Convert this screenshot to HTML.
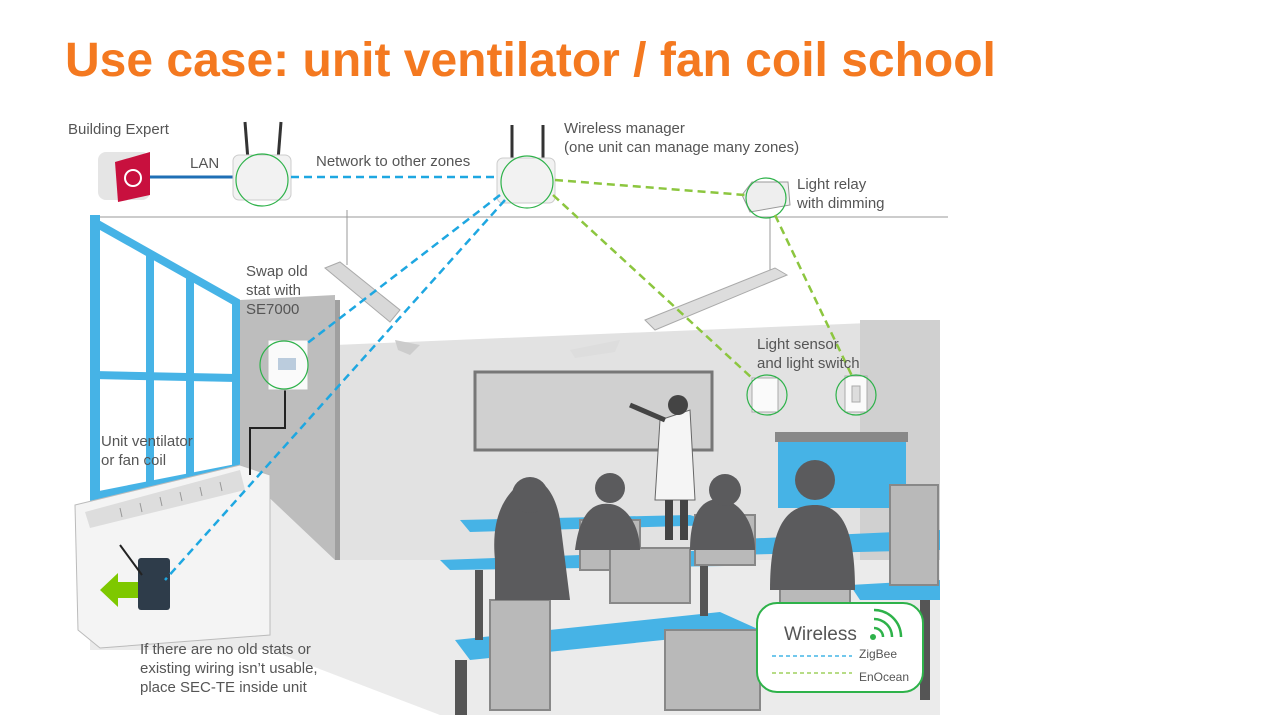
<!DOCTYPE html>
<html><head><meta charset="utf-8"><style>
body{margin:0;width:1280px;height:720px;overflow:hidden;background:#fff;font-family:"Liberation Sans",sans-serif;}
</style></head><body>
<svg width="1280" height="720" viewBox="0 0 1280 720" xmlns="http://www.w3.org/2000/svg" font-family="Liberation Sans, sans-serif">
<rect width="1280" height="720" fill="#fff"/>
<text x="65" y="76" font-size="48" font-weight="bold" fill="#F47920">Use case: unit ventilator / fan coil school</text>
<!-- room -->
<line x1="90" y1="217" x2="948" y2="217" stroke="#bbb" stroke-width="1.5"/>
<polygon points="335,345 940,320 940,560 335,560" fill="#e2e2e2"/>
<polygon points="860,320 940,320 940,715 860,715" fill="#d0d0d0"/>
<polygon points="240,300 335,295 335,560 240,560" fill="#bdbdbd"/>
<polygon points="335,300 340,300 340,560 335,560" fill="#a0a0a0"/>
<polygon points="90,500 240,470 335,560 940,560 940,715 440,715 270,650 90,650" fill="#ebebeb"/>
<!-- window -->
<polygon points="90,215 240,300 240,470 90,500" fill="#fff"/>
<g fill="none" stroke="#46b3e6" stroke-width="8">
<polygon points="94,222 236,302 236,468 94,496"/>
<line x1="150" y1="255" x2="150" y2="488"/>
<line x1="190" y1="276" x2="190" y2="480"/>
<line x1="94" y1="375" x2="236" y2="378"/>
</g>
<rect x="90" y="215" width="10" height="285" fill="#46b3e6"/>
<!-- board -->
<rect x="475" y="372" width="237" height="78" fill="#d0d0d0" stroke="#777" stroke-width="3"/>
<!-- lights -->
<line x1="347" y1="210" x2="347" y2="265" stroke="#999"/>
<polygon points="325,268 340,262 400,310 390,322" fill="#d8d8d8" stroke="#aaa"/>
<polygon points="395,340 420,345 410,355 398,350" fill="#ccc"/>
<line x1="770" y1="218" x2="770" y2="270" stroke="#999"/>
<polygon points="645,320 775,268 787,275 655,330" fill="#ddd" stroke="#aaa"/>
<polygon points="570,350 620,340 615,352 575,358" fill="#ddd"/>
<!-- sink cabinet -->
<rect x="778" y="438" width="128" height="70" fill="#46b3e6"/>
<rect x="775" y="432" width="133" height="10" fill="#888"/>
<!-- tables -->
<g fill="#46b3e6">
<polygon points="460,520 690,515 720,525 470,532"/>
<polygon points="440,560 720,550 725,566 450,570"/>
<polygon points="455,640 720,612 760,630 470,660"/>
<polygon points="720,540 940,530 940,550 730,555"/>
<polygon points="850,585 940,580 940,600 860,600"/>
</g>
<g fill="#555">
<rect x="455" y="660" width="12" height="55"/><rect x="475" y="570" width="8" height="70"/>
<rect x="700" y="566" width="8" height="50"/><rect x="920" y="600" width="10" height="100"/>
</g>
<!-- chairs -->
<g fill="#b9b9b9" stroke="#888" stroke-width="2">
<rect x="490" y="600" width="60" height="110"/><rect x="580" y="520" width="60" height="50"/>
<rect x="610" y="548" width="80" height="55"/><rect x="695" y="515" width="60" height="50"/>
<rect x="665" y="630" width="95" height="80"/><rect x="890" y="485" width="48" height="100"/>
<rect x="780" y="545" width="70" height="60"/>
</g>
<!-- people -->
<g fill="#5b5b5d">
<path d="M495,560 C490,510 510,490 525,480 C540,475 555,490 560,520 L570,600 L495,600 Z"/>
<circle cx="530" cy="495" r="18"/>
<path d="M575,550 C580,510 595,500 615,505 C630,510 640,530 640,550 Z"/>
<circle cx="610" cy="488" r="15"/>
<path d="M690,550 C690,510 705,495 725,500 C745,505 755,530 755,550 Z"/>
<circle cx="725" cy="490" r="16"/>
<path d="M770,590 C770,520 790,505 815,505 C840,505 855,525 855,590 Z"/>
<circle cx="815" cy="480" r="20"/>
</g>
<path d="M660,420 L690,410 L695,500 L655,500 Z" fill="#f5f5f5" stroke="#666"/>
<circle cx="678" cy="405" r="10" fill="#444"/>
<line x1="665" y1="420" x2="630" y2="405" stroke="#444" stroke-width="5"/>
<rect x="665" y="500" width="8" height="40" fill="#444"/><rect x="680" y="500" width="8" height="40" fill="#444"/>
<!-- unit ventilator -->
<polygon points="75,505 240,465 270,475 270,635 100,648 78,630" fill="#f4f4f4" stroke="#bbb"/>
<polygon points="85,512 240,470 245,490 90,528" fill="#ddd"/>
<g stroke="#999" stroke-width="1">
<line x1="120" y1="508" x2="122" y2="517"/><line x1="140" y1="503" x2="142" y2="512"/><line x1="160" y1="497" x2="162" y2="506"/><line x1="180" y1="492" x2="182" y2="501"/><line x1="200" y1="487" x2="202" y2="496"/><line x1="220" y1="482" x2="222" y2="491"/>
</g>
<rect x="138" y="558" width="32" height="52" rx="3" fill="#2e3c4a"/>
<line x1="120" y1="545" x2="142" y2="575" stroke="#222" stroke-width="2"/>
<polygon points="100,590 118,573 118,582 138,582 138,598 118,598 118,607" fill="#7ec800"/>
<!-- wiring -->
<polyline points="250,475 250,428 285,428 285,390" fill="none" stroke="#222" stroke-width="2"/>
<!-- stat -->
<rect x="268" y="340" width="40" height="50" fill="#fafafa" stroke="#bbb"/>
<rect x="278" y="358" width="18" height="12" fill="#bcd"/>
<circle cx="284" cy="365" r="24" fill="none" stroke="#2eb24a" stroke-width="1.2"/>
<!-- sensors -->
<rect x="752" y="378" width="26" height="34" fill="#fafafa" stroke="#aaa"/>
<circle cx="767" cy="395" r="20" fill="none" stroke="#2eb24a" stroke-width="1.2"/>
<rect x="845" y="376" width="22" height="36" fill="#fafafa" stroke="#aaa"/>
<rect x="852" y="386" width="8" height="16" fill="#ddd" stroke="#aaa"/>
<circle cx="856" cy="395" r="20" fill="none" stroke="#2eb24a" stroke-width="1.2"/>
<!-- building expert -->
<rect x="98" y="152" width="52" height="48" rx="8" fill="#e5e5e5"/>
<polygon points="115,162 150,152 150,195 118,202" fill="#c8103e"/>
<circle cx="133" cy="178" r="8" fill="none" stroke="#fff" stroke-width="2"/>
<!-- LAN -->
<line x1="150" y1="177" x2="235" y2="177" stroke="#1f6fb5" stroke-width="3"/>
<!-- router -->
<line x1="248" y1="160" x2="245" y2="122" stroke="#333" stroke-width="3"/>
<line x1="278" y1="160" x2="281" y2="122" stroke="#333" stroke-width="3"/>
<rect x="233" y="155" width="58" height="45" rx="6" fill="#f2f2f2" stroke="#ccc"/>
<circle cx="262" cy="180" r="26" fill="none" stroke="#2eb24a" stroke-width="1.2"/>
<!-- wireless manager -->
<line x1="512" y1="165" x2="512" y2="125" stroke="#333" stroke-width="3"/>
<line x1="543" y1="165" x2="543" y2="125" stroke="#333" stroke-width="3"/>
<rect x="497" y="158" width="58" height="45" rx="6" fill="#f2f2f2" stroke="#ccc"/>
<circle cx="527" cy="182" r="26" fill="none" stroke="#2eb24a" stroke-width="1.2"/>
<!-- light relay -->
<polygon points="742,195 752,182 788,182 790,205 750,212" fill="#eee" stroke="#999"/>
<circle cx="766" cy="198" r="20" fill="none" stroke="#2eb24a" stroke-width="1.2"/>
<!-- dashed links -->
<g stroke-dasharray="8,5" stroke-width="2.5" fill="none">
<line x1="291" y1="177" x2="497" y2="177" stroke="#1ea7e1"/>
<line x1="500" y1="195" x2="305" y2="345" stroke="#1ea7e1"/>
<line x1="505" y1="200" x2="165" y2="580" stroke="#1ea7e1"/>
<line x1="555" y1="180" x2="745" y2="195" stroke="#8cc63f"/>
<line x1="553" y1="195" x2="752" y2="378" stroke="#8cc63f"/>
<line x1="775" y1="215" x2="852" y2="376" stroke="#8cc63f"/>
</g>
<!-- labels -->
<g font-size="15" fill="#555">
<text x="68" y="134">Building Expert</text>
<text x="190" y="168">LAN</text>
<text x="316" y="166">Network to other zones</text>
<text x="564" y="133">Wireless manager</text>
<text x="564" y="152">(one unit can manage many zones)</text>
<text x="797" y="189">Light relay</text>
<text x="797" y="208">with dimming</text>
<text x="246" y="276">Swap old</text>
<text x="246" y="295">stat with</text>
<text x="246" y="314">SE7000</text>
<text x="757" y="349">Light sensor</text>
<text x="757" y="368">and light switch</text>
<text x="101" y="446">Unit ventilator</text>
<text x="101" y="465">or fan coil</text>
<text x="140" y="654">If there are no old stats or</text>
<text x="140" y="673">existing wiring isn’t usable,</text>
<text x="140" y="692">place SEC-TE inside unit</text>
</g>
<!-- legend -->
<rect x="757" y="603" width="166" height="89" rx="20" fill="#fff" stroke="#2eb24a" stroke-width="2"/>
<text x="784" y="640" font-size="19" fill="#555">Wireless</text>
<circle cx="873" cy="637" r="3" fill="#2eb24a"/>
<path d="M874,628 A9,9 0 0 1 883,637 M874,619 A18,18 0 0 1 892,637 M874,610 A27,27 0 0 1 901,637" fill="none" stroke="#2eb24a" stroke-width="2.5"/>
<line x1="772" y1="656" x2="852" y2="656" stroke="#1ea7e1" stroke-dasharray="4,3" stroke-width="1.2"/>
<line x1="772" y1="673" x2="852" y2="673" stroke="#8cc63f" stroke-dasharray="4,3" stroke-width="1.2"/>
<text x="859" y="658" font-size="12" fill="#555">ZigBee</text>
<text x="859" y="681" font-size="12" fill="#555">EnOcean</text>
</svg>
</body></html>
